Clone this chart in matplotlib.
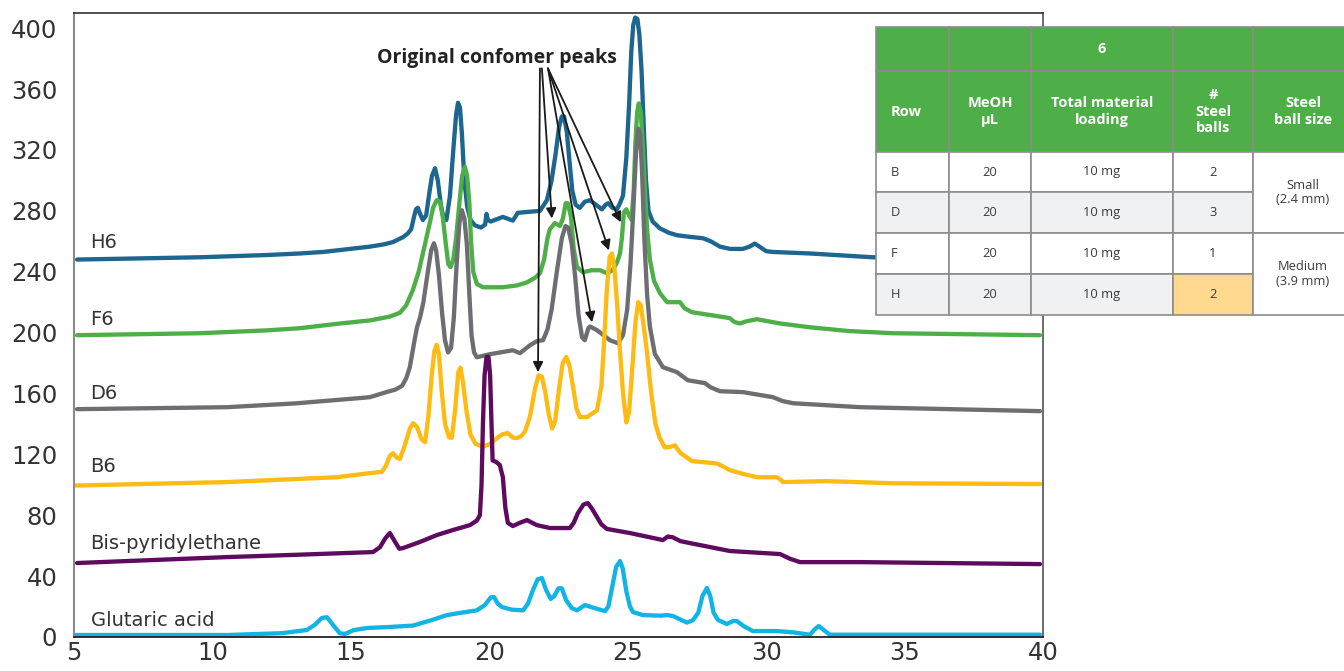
import matplotlib
matplotlib.use("Agg")
import matplotlib.pyplot as plt
from matplotlib.patches import Rectangle

plt.rcParams['font.family'] = ['Open Sans', 'DejaVu Sans']

# ---------------- data ----------------
h6_x = [5.11, 9.55, 12.0, 13.16, 14.0, 14.97, 15.69, 16.2, 16.52, 16.88, 17.05, 17.18, 17.28, 17.35,
        17.42, 17.50, 17.60, 17.72, 17.82, 17.93, 18.04, 18.14, 18.25, 18.35, 18.45, 18.58, 18.70, 18.80,
        18.87, 18.94, 19.01, 19.10, 19.20, 19.32, 19.48, 19.70, 19.85, 19.90, 19.95, 20.05, 20.49, 20.85,
        21.03, 21.83, 22.08, 22.25, 22.40, 22.52, 22.62, 22.70, 22.80, 22.90, 23.00, 23.12, 23.27, 23.45,
        23.64, 23.85, 24.07, 24.20, 24.30, 24.45, 24.61, 24.72, 24.83, 24.95, 25.05, 25.13, 25.20, 25.27,
        25.35, 25.42, 25.50, 25.58, 25.66, 25.75, 25.90, 26.16, 26.50, 26.78, 27.20, 27.72, 28.00, 28.33,
        28.70, 29.16, 29.40, 29.59, 29.80, 30.00, 30.24, 31.58, 33.85, 39.89]
h6_y = [248, 249.5, 251, 252, 253, 255, 256.5, 258, 259.5, 262.7, 265, 268, 276, 281,
        282, 278, 274, 277, 290, 303, 308, 300, 284, 275, 274, 290, 320, 343,
        351, 348, 331, 300, 283, 274, 270.5, 269, 271, 278, 274, 273, 276, 273.6,
        278.7, 280, 287, 300, 318, 335, 342, 342, 332, 312, 293, 284, 282, 286,
        287, 284, 281, 284, 285, 282, 281, 285, 290, 315, 350, 385, 402, 407,
        406, 396, 372, 335, 300, 280, 273, 268.5, 265.5, 264, 263, 262, 260, 256.5,
        255, 255, 256.5, 258.5, 256, 253.5, 253, 252, 249.5, 248]

f6_x = [5.11, 9.55, 12.0, 13.16, 14.61, 15.69, 16.4, 16.77, 17.0, 17.24, 17.45, 17.65, 17.85, 17.97,
        18.10, 18.22, 18.32, 18.43, 18.52, 18.60, 18.70, 18.80, 18.92, 19.02, 19.12, 19.20, 19.28, 19.34,
        19.42, 19.55, 19.77, 20.49, 21.00, 21.36, 21.65, 21.83, 21.98, 22.10, 22.19, 22.37, 22.55, 22.66,
        22.76, 22.84, 22.95, 23.05, 23.17, 23.38, 23.70, 24.00, 24.25, 24.45, 24.61, 24.72, 24.79, 24.86,
        24.95, 25.05, 25.14, 25.22, 25.28, 25.34, 25.40, 25.47, 25.55, 25.62, 25.70, 25.80, 25.95, 26.16,
        26.42, 26.89, 27.05, 27.32, 28.0, 28.69, 28.85, 29.05, 29.3, 29.67, 30.5, 31.58, 33.0, 34.58,
        39.89]
f6_y = [198.3, 199.6, 201.5, 202.9, 206, 208, 210.5, 213, 218, 228, 240, 256, 272, 282,
        287, 286, 276, 258, 245, 243, 248, 262, 285, 303, 309, 303, 285, 260,
        240, 232, 229.8, 229.8, 231, 233, 236, 239, 248, 262, 268, 272, 270, 275,
        285, 285, 276, 255, 243, 239.7, 241, 241, 239, 241, 246, 252, 262, 279,
        281, 277, 274, 295, 325, 345, 350.6, 345, 322, 295, 268, 248, 234, 226,
        220, 220, 216, 213.4, 211.5, 209.5, 207, 206, 207.5, 208.8, 206, 203.5, 201, 199.6,
        198.3]

d6_x = [5.11, 10.53, 13.0, 15.33, 15.69, 15.94, 16.30, 16.6, 16.85, 17.0, 17.13, 17.30, 17.39, 17.50,
        17.62, 17.78, 17.90, 18.00, 18.08, 18.18, 18.30, 18.40, 18.51, 18.62, 18.72, 18.82, 18.92, 19.01,
        19.10, 19.19, 19.28, 19.36, 19.45, 19.55, 20.02, 20.85, 21.11, 21.47, 21.72, 21.94, 22.10, 22.25,
        22.44, 22.62, 22.75, 22.85, 22.98, 23.10, 23.22, 23.35, 23.45, 23.58, 23.64, 23.89, 24.36, 24.65,
        24.83, 24.98, 25.10, 25.20, 25.30, 25.38, 25.45, 25.52, 25.60, 25.70, 25.80, 25.98, 26.27, 26.78,
        27.0, 27.17, 27.79, 28.0, 28.33, 29.16, 30.24, 30.6, 30.97, 33.39, 39.89]
d6_y = [149.7, 151, 153.5, 157, 157.6, 159, 161, 162.5, 165, 170, 177.3, 195, 203.5, 210,
        220, 240, 254, 258.7, 254, 238, 212, 195, 187, 190, 210, 245, 272, 280.4,
        275, 258, 225, 198, 187, 183.8, 185.8, 188.4, 186.5, 191.7, 194.4, 195, 202, 215,
        240, 262, 270, 269, 258, 237, 212, 197, 195, 203, 204, 201.6, 195, 193,
        198.3, 215, 245, 280, 318, 334, 330, 305, 262, 225, 204, 186, 177.3, 174,
        171, 168.7, 166.8, 164, 161.5, 160.9, 157.6, 155, 153.6, 151, 148.4]

b6_x = [5.0, 10.53, 14.50, 15.69, 16.12, 16.25, 16.41, 16.52, 16.65, 16.77, 16.95, 17.13, 17.25, 17.39,
        17.55, 17.68, 17.80, 17.92, 18.02, 18.10, 18.18, 18.28, 18.40, 18.55, 18.65, 18.77, 18.88, 18.96,
        19.05, 19.18, 19.32, 19.50, 19.77, 20.05, 20.28, 20.45, 20.67, 20.85, 21.00, 21.15, 21.29, 21.47,
        21.65, 21.78, 21.90, 22.02, 22.15, 22.27, 22.38, 22.52, 22.65, 22.78, 22.90, 23.02, 23.15, 23.27,
        23.53, 23.89, 24.05, 24.15, 24.25, 24.35, 24.43, 24.52, 24.62, 24.72, 24.83, 24.95, 25.05, 25.17,
        25.28, 25.38, 25.47, 25.58, 25.69, 25.85, 26.00, 26.15, 26.34, 26.55, 26.70, 26.90, 27.32, 28.22,
        28.45, 28.69, 29.2, 29.67, 30.39, 30.55, 30.60, 32.19, 34.58, 39.89]
b6_y = [99.5, 101.8, 105, 107.7, 108.5, 112, 119, 120.8, 118, 117, 126, 137, 140.5, 138,
        130, 128, 145, 172, 188, 192, 186, 162, 140, 131, 131, 150, 174, 177,
        167, 148, 133, 127, 125, 127, 130.7, 133, 134, 131, 130.7, 132, 135, 145,
        163, 172, 171, 161, 146, 137, 142, 163, 180, 184, 178, 165, 150, 144.5,
        144.5, 149, 165, 195, 230, 250, 252, 242, 218, 188, 160, 141, 148, 178,
        207, 220, 218, 204, 188, 160, 140, 131, 124.5, 125, 126, 121, 115.6, 114,
        112, 109.6, 107, 105, 105, 103, 101.8, 102.4, 101, 100.5]

bis_x = [5.11, 10.53, 13.0, 15.80, 16.05, 16.25, 16.41, 16.58, 16.75, 16.88, 17.5, 18.11, 18.69, 19.30,
         19.55, 19.66, 19.72, 19.77, 19.83, 19.90, 19.97, 20.03, 20.08, 20.12, 20.25, 20.38, 20.49, 20.58,
         20.67, 20.85, 21.1, 21.36, 21.72, 22.19, 22.91, 23.05, 23.20, 23.40, 23.56, 23.72, 23.89, 24.05,
         24.25, 25.08, 26.27, 26.45, 26.63, 26.9, 27.25, 27.61, 28.69, 30.50, 30.85, 31.22, 33.39, 39.89]
bis_y = [48.6, 52.5, 54, 55.8, 59, 65, 68.3, 63, 58, 58.4, 62.5, 67, 70.3, 73.5,
         76.5, 80, 100, 140, 172, 184, 184, 172, 140, 116, 115, 113, 105, 85,
         75, 72.9, 75, 76.8, 73.5, 71.6, 71.6, 75, 81.4, 87, 88, 84, 78.8, 74,
         71, 68.3, 63.7, 66, 65.5, 63, 61.7, 60.4, 56.5, 54.5, 51.5, 49.2, 49.2, 47.9]

glu_x = [5.0, 10.53, 12.5, 13.41, 13.7, 13.95, 14.14, 14.35, 14.6, 14.79, 15.1, 15.58, 16.41, 17.24,
         17.9, 18.47, 19.0, 19.55, 19.84, 20.05, 20.17, 20.30, 20.46, 20.8, 21.22, 21.40, 21.58, 21.75,
         21.90, 22.05, 22.22, 22.35, 22.50, 22.62, 22.78, 22.98, 23.17, 23.45, 23.8, 24.18, 24.30, 24.43,
         24.58, 24.72, 24.82, 24.95, 25.08, 25.19, 25.55, 26.2, 26.42, 26.63, 26.9, 27.14, 27.35, 27.55,
         27.70, 27.86, 27.98, 28.10, 28.26, 28.58, 28.80, 28.94, 29.2, 29.52, 30.39, 31.0, 31.58, 31.75,
         31.90, 32.05, 32.30, 39.89]
glu_y = [1.3, 1.3, 2.5, 4.6, 8, 12.5, 13, 8, 2.5, 2, 4.5, 5.9, 6.6, 7.5,
         11, 14.4, 16, 17.5, 21, 26, 26.3, 22, 19.7, 18, 17.5, 22, 31, 38,
         38.7, 31, 25, 27, 32, 32, 24, 19, 17.5, 21, 19, 17, 20, 32,
         46, 49.9, 45, 30, 20, 16.4, 14.4, 14, 14.4, 13.8, 11.5, 9.5, 11, 16,
         27, 32.2, 27, 16, 11.2, 8.5, 10.5, 10.5, 7, 3.9, 3.9, 3, 1.5, 5,
         7.2, 5, 1.5, 1.5]

series_names = ["H6", "F6", "D6", "B6", "Bis-pyridylethane", "Glutaric acid"]
series_x = [h6_x, f6_x, d6_x, b6_x, bis_x, glu_x]
series_y = [h6_y, f6_y, d6_y, b6_y, bis_y, glu_y]
series_colors = ["#1C668F", "#4EAE48", "#6D6E71", "#FDBB14", "#5E0A5E", "#12B4E6"]
label_y = [259, 208.5, 160, 112, 61.5, 11]

x_ticks = [5, 10, 15, 20, 25, 30, 35, 40]
y_ticks = [0, 40, 80, 120, 160, 200, 240, 280, 320, 360, 400]

annot_text = "Original confomer peaks"
arrow_tips = [(21.76, 174), (22.26, 275), (23.71, 206.8), (24.32, 254), (24.75, 272.5)]
arrow_tails = [(21.83, 373.6), (21.90, 373.6), (22.12, 373.6), (22.12, 373.6), (22.12, 373.6)]

table_header_top = ["", "", "6", "", ""]
table_header = ["Row", "MeOH\nµL", "Total material\nloading", "#\nSteel\nballs", "Steel\nball size"]
table_rows = [["B", "20", "10 mg", "2"],
              ["D", "20", "10 mg", "3"],
              ["F", "20", "10 mg", "1"],
              ["H", "20", "10 mg", "2"]]
ball_sizes = ["Small\n(2.4 mm)", "Medium\n(3.9 mm)"]

# ---------------- figure ----------------
W, H = 1344, 671
fig = plt.figure(figsize=(W / 100, H / 100), dpi=100)
ax = fig.add_axes([74 / W, 34 / H, 969 / W, 624 / H])

for xs, ys, c in zip(series_x, series_y, series_colors):
    ax.plot(xs, ys, color=c, lw=3.1, solid_joinstyle='round', solid_capstyle='round')

for name, ly in zip(series_names, label_y):
    ax.text(5.6, ly, name, fontsize=14, color="#333333", va='center', ha='left',
            family='DejaVu Sans')

ax.set_xlim(5, 40)
ax.set_ylim(0, 410)
ax.set_xticks(x_ticks)
ax.set_xticklabels([str(v) for v in x_ticks], family='DejaVu Sans')
ax.set_yticks(y_ticks)
ax.set_yticklabels([str(v) for v in y_ticks], family='DejaVu Sans')
ax.tick_params(axis='both', length=0, labelsize=17.5, labelcolor="#333333")
ax.tick_params(axis='y', pad=12)
ax.tick_params(axis='x', pad=3)
ax.spines['left'].set_color("#8a8a8a")
ax.spines['left'].set_linewidth(1.5)
ax.spines['bottom'].set_color("#222222")
ax.spines['bottom'].set_linewidth(1.3)
ax.spines['top'].set_color("#222222")
ax.spines['top'].set_linewidth(1.1)
ax.spines['right'].set_color("#444444")
ax.spines['right'].set_linewidth(1.1)

ax.text(20.28, 380.5, annot_text, ha='center', va='center', fontsize=14,
        fontweight='bold', color="#222222")
for tip, tail in zip(arrow_tips, arrow_tails):
    ax.annotate("", xy=tip, xytext=tail,
                arrowprops=dict(arrowstyle='-|>', color="#1a1a1a", lw=1.3,
                                mutation_scale=15, shrinkA=0, shrinkB=0))

# ---------------- table overlay ----------------
tab = fig.add_axes([0, 0, 1, 1])
tab.set_xlim(0, W)
tab.set_ylim(H, 0)
tab.axis('off')
tab.patch.set_alpha(0)

col_edges = [876, 949, 1031, 1173, 1253, 1360]
row_edges = [27, 71, 152, 192, 233, 274, 315]
green = "#4EAE48"
grid = "#8c8c8c"
rowfill = ["#ffffff", "#f0f1f3", "#ffffff", "#f0f1f3"]
highlight = "#FFD98F"
hdr_fs = 10.5
body_fs = 9.3


def cell(x0, x1, y0, y1, fc):
    tab.add_patch(Rectangle((x0, y0), x1 - x0, y1 - y0, facecolor=fc,
                            edgecolor=grid, lw=1.2, clip_on=True))


def cx(i):
    return (col_edges[i] + col_edges[i + 1]) / 2 if i < 4 else 1303


# header rows
for hr in range(2):
    for c in range(5):
        cell(col_edges[c], col_edges[c + 1], row_edges[hr], row_edges[hr + 1], green)
for c, t in enumerate(table_header_top):
    if t:
        tab.text(cx(c), (row_edges[0] + row_edges[1]) / 2, t, color='white', fontweight='bold',
                 fontsize=hdr_fs, ha='center', va='center')
for c, t in enumerate(table_header):
    ymid = (row_edges[1] + row_edges[2]) / 2
    if c == 0:
        tab.text(891, ymid, t, color='white', fontweight='bold', fontsize=hdr_fs, ha='left', va='center')
    else:
        tab.text(cx(c), ymid, t, color='white', fontweight='bold', fontsize=hdr_fs, ha='center',
                 va='center', linespacing=1.2)

# body rows
for r, row in enumerate(table_rows):
    y0, y1 = row_edges[r + 2], row_edges[r + 3]
    for c, t in enumerate(row):
        fc = rowfill[r]
        if r == 3 and c == 3:
            fc = highlight
        cell(col_edges[c], col_edges[c + 1], y0, y1, fc)
        if c == 0:
            tab.text(891, (y0 + y1) / 2, t, color="#3a3a3a", fontsize=body_fs, ha='left', va='center')
        else:
            tab.text(cx(c), (y0 + y1) / 2, t, color="#3a3a3a", fontsize=body_fs, ha='center', va='center')

for k, t in enumerate(ball_sizes):
    y0, y1 = row_edges[2 + 2 * k], row_edges[4 + 2 * k]
    cell(col_edges[4], col_edges[5], y0, y1, "#ffffff")
    tab.text(1303, (y0 + y1) / 2, t, color="#3a3a3a", fontsize=body_fs, ha='center', va='center',
             linespacing=1.15)

fig.savefig("out.png", dpi=100)
